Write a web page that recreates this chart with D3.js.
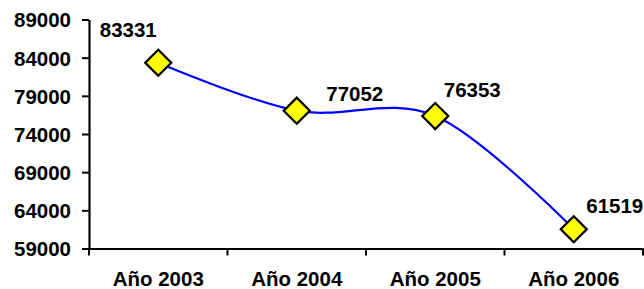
<!DOCTYPE html>
<html>
<head>
<meta charset="utf-8">
<script src="https://cdn.jsdelivr.net/npm/d3@7"></script>
<style>
  html, body { margin: 0; padding: 0; background: #fff; }
  svg { display: block; }
  text { font-family: "Liberation Sans", Arial, sans-serif; font-weight: bold; fill: #000; }
</style>
</head>
<body>
<svg id="chart" width="644" height="289"></svg>
<script>
const categories = ["Año 2003", "Año 2004", "Año 2005", "Año 2006"];
const values = [83331, 77052, 76353, 61519];
const yTicks = [59000, 64000, 69000, 74000, 79000, 84000, 89000];
// label offsets relative to marker (dx, baseline dy)
const labelOffsets = [[-30, -25.5], [58, -10], [37, -19.5], [41, -16.5]];

const svg = d3.select("#chart");
const x = d3.scaleBand().domain(categories).range([89, 643]).padding(0);
const y = d3.scaleLinear().domain([59000, 89000]).range([248.5, 19.5]);

// Y axis
const yAxis = svg.append("g")
  .attr("transform", "translate(89,0)")
  .call(d3.axisLeft(y).tickValues(yTicks).tickSize(7).tickPadding(11).tickSizeOuter(0).tickFormat(d3.format("d")));
yAxis.select(".domain").attr("stroke", "#000").attr("stroke-width", 2.2);
yAxis.selectAll(".tick line").attr("stroke", "#000").attr("stroke-width", 2);
yAxis.selectAll(".tick text").style("font-size", "20.5px").attr("dy", "0.36em");

// X axis
const xAxis = svg.append("g")
  .attr("transform", "translate(0,248.5)")
  .call(d3.axisBottom(x).tickSize(0).tickPadding(24).tickSizeOuter(0));
xAxis.select(".domain").attr("stroke", "#000").attr("stroke-width", 2.2);
xAxis.selectAll(".tick text").style("font-size", "20.5px").attr("dy", "0.71em").attr("y", 23.3);
// boundary ticks
const bounds = d3.range(categories.length + 1).map(i => x.range()[0] + i * x.step());
xAxis.selectAll(".bt").data(bounds).join("line")
  .attr("class", "bt")
  .attr("x1", d => d).attr("x2", d => d)
  .attr("y1", 0).attr("y2", 7)
  .attr("stroke", "#000").attr("stroke-width", 2);

const pts = categories.map((c, i) => [x(c) + x.bandwidth() / 2, y(values[i])]);

// Smoothed line
svg.append("path")
  .attr("d", d3.line().curve(d3.curveCardinal.tension(0))(pts))
  .attr("fill", "none")
  .attr("stroke", "#0000FF")
  .attr("stroke-width", 2.2);

// Markers
svg.selectAll(".mk").data(pts).join("path")
  .attr("class", "mk")
  .attr("d", d3.symbol().type(d3.symbolSquare).size(340)())
  .attr("transform", d => `translate(${d[0]},${d[1]}) rotate(45)`)
  .attr("fill", "#FFFF00")
  .attr("stroke", "#000")
  .attr("stroke-width", 2.2);

// Data labels
svg.selectAll(".lbl").data(pts).join("text")
  .attr("class", "lbl")
  .attr("x", (d, i) => d[0] + labelOffsets[i][0])
  .attr("y", (d, i) => d[1] + labelOffsets[i][1])
  .attr("text-anchor", "middle")
  .style("font-size", "20.5px")
  .text((d, i) => values[i]);
</script>
</body>
</html>
